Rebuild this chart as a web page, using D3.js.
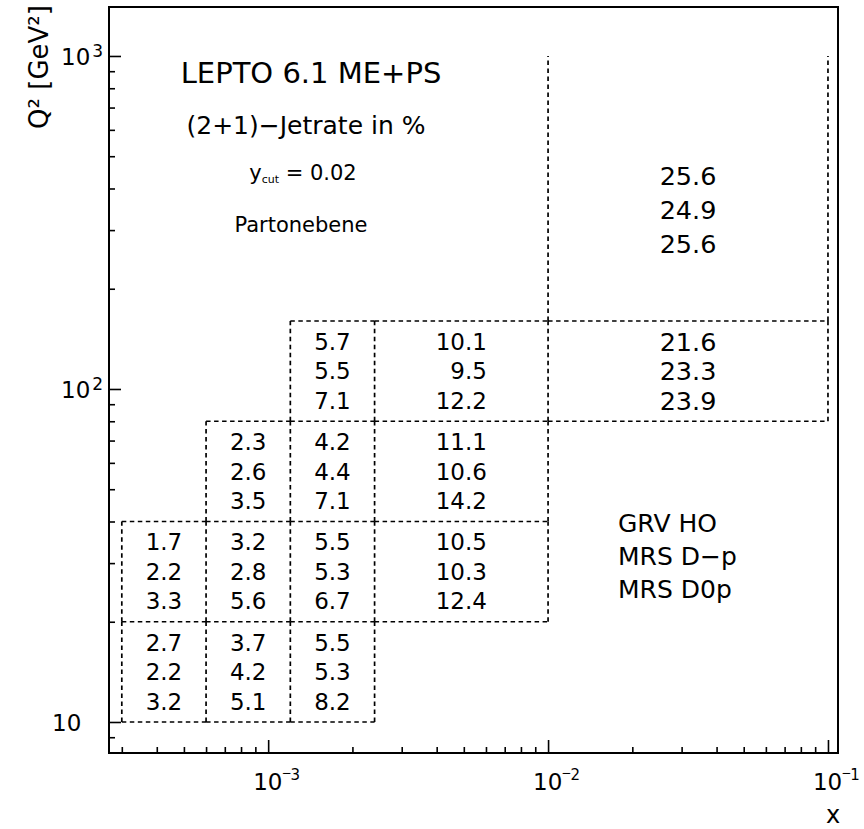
<!DOCTYPE html>
<html>
<head>
<meta charset="utf-8">
<script src="https://cdn.jsdelivr.net/npm/d3@7"></script>
<style>
  html, body { margin: 0; padding: 0; background: #fff; }
  svg { display: block; }
  text { font-family: "DejaVu Sans", "Liberation Sans", sans-serif; fill: #000; }
</style>
</head>
<body>
<svg id="chart" width="864" height="829"></svg>
<script>
// Bin edges of the (x, Q^2) grid
const xEdges  = [3e-4, 6e-4, 1.2e-3, 2.4e-3, 1e-2, 1e-1];
const q2Edges = [10, 20, 40, 80, 160, 1000];

// Parton density sets, one text line per set inside every bin
const pdfSets = ["GRV HO", "MRS D\u2212p", "MRS D0p"];

// Occupied bins: x-bin index and Q^2-bin index
const cellX  = [0, 1, 2,  0, 1, 2, 3,  1, 2, 3,  2, 3, 4,  4];
const cellQ2 = [0, 0, 0,  1, 1, 1, 1,  2, 2, 2,  3, 3, 3,  4];

// (2+1)-jet rate in % for each bin and parton density set
const rateGRV   = [2.7, 3.7, 5.5,  1.7, 3.2, 5.5, 10.5,  2.3, 4.2, 11.1,  5.7, 10.1, 21.6,  25.6];
const rateMRSDm = [2.2, 4.2, 5.3,  2.2, 2.8, 5.3, 10.3,  2.6, 4.4, 10.6,  5.5,  9.5, 23.3,  24.9];
const rateMRSD0 = [3.2, 5.1, 8.2,  3.3, 5.6, 6.7, 12.4,  3.5, 7.1, 14.2,  7.1, 12.2, 23.9,  25.6];

// Axis ticks
const xMajor = [1e-3, 1e-2, 1e-1];
const xMajorExp = ["3", "2", "1"];
const yMajor = [10, 100, 1000];
const yMajorExp = ["", "2", "3"];

const svg = d3.select("#chart");
const L = 109, R = 838, T = 7, B = 753;

const x = d3.scaleLog().domain([2.70e-4, 0.1086]).range([L, R]);
const y = d3.scaleLog().domain([8.07, 1403]).range([B, T]);

// minor ticks: 2..9 x 10^n inside the domains
function minors(scale) {
  const [a, b] = scale.domain();
  const out = [];
  for (let e = Math.floor(Math.log10(a)); e <= Math.ceil(Math.log10(b)); e++) {
    for (let m = 2; m <= 9; m++) {
      const v = m * Math.pow(10, e);
      if (v >= a && v <= b) out.push(v);
    }
  }
  return out;
}

const axisG = svg.append("g");
function drawAxis(gen) {
  const g = axisG.append("g").call(gen);
  g.select(".domain").remove();
  g.selectAll(".tick line").attr("stroke", "#000").attr("stroke-width", 1.6);
  g.selectAll(".tick text").remove();
  return g;
}
drawAxis(d3.axisBottom(x).tickValues(xMajor).tickSize(-13).tickFormat(""))
  .attr("transform", `translate(0,${B})`);
drawAxis(d3.axisBottom(x).tickValues(minors(x)).tickSize(-6).tickFormat(""))
  .attr("transform", `translate(0,${B})`);
drawAxis(d3.axisLeft(y).tickValues(yMajor).tickSize(-12).tickFormat(""))
  .attr("transform", `translate(${L},0)`);
drawAxis(d3.axisLeft(y).tickValues(minors(y)).tickSize(-6).tickFormat(""))
  .attr("transform", `translate(${L},0)`);

// frame
svg.append("rect")
  .attr("x", L).attr("y", T).attr("width", R - L).attr("height", B - T)
  .attr("fill", "none").attr("stroke", "#000").attr("stroke-width", 2);

// x tick labels: 10 with a raised negative exponent
xMajor.forEach((v, i) => {
  const tx = x(v);
  const lab = svg.append("text")
    .attr("x", tx - 15).attr("y", 790)
    .style("font-size", "23px");
  lab.append("tspan").text("10");
  lab.append("tspan").attr("dx", -1).attr("dy", -13)
    .style("font-size", "12px").text("\u2212");
  lab.append("tspan").attr("dx", -1).attr("dy", 3)
    .style("font-size", "15px").text(xMajorExp[i]);
});

// y tick labels
yMajor.forEach((v, i) => {
  const exp = yMajorExp[i];
  const lab = svg.append("text")
    .attr("x", exp ? 61 : 52).attr("y", y(v) + 9)
    .style("font-size", "23px");
  lab.append("tspan").text("10");
  if (exp) {
    lab.append("tspan").attr("dx", 2).attr("dy", -8)
      .style("font-size", "17px").text(exp);
  }
});

// axis titles
svg.append("text")
  .attr("transform", `translate(48,67) rotate(-90)`)
  .attr("text-anchor", "middle")
  .style("font-size", "26px")
  .text("Q\u00B2 [GeV\u00B2]");
svg.append("text")
  .attr("x", 833).attr("y", 823)
  .attr("text-anchor", "middle")
  .style("font-size", "24px")
  .text("x");

// bin borders: shared edges drawn once, the open upper bin has no top edge
const topBin = q2Edges.length - 2;
const segs = new Map();
function addSeg(x1, y1, x2, y2) {
  const k = [x1, y1, x2, y2].join("|");
  if (!segs.has(k)) segs.set(k, { x1, y1, x2, y2 });
}
cellX.forEach((ix, i) => {
  const iq = cellQ2[i];
  const x0 = xEdges[ix], x1 = xEdges[ix + 1];
  const q0 = q2Edges[iq], q1 = q2Edges[iq + 1];
  addSeg(x0, q0, x1, q0);
  if (iq !== topBin) addSeg(x0, q1, x1, q1);
  addSeg(x0, q0, x0, q1);
  addSeg(x1, q0, x1, q1);
});
svg.append("g")
  .selectAll("line")
  .data([...segs.values()])
  .join("line")
  .attr("x1", d => x(d.x1)).attr("y1", d => y(d.y1))
  .attr("x2", d => x(d.x2)).attr("y2", d => y(d.y2))
  .attr("stroke", "#000")
  .attr("stroke-width", 1.7)
  .attr("stroke-dasharray", "4.5,3.5");

// jet rates inside each bin, three lines right-aligned on a common edge
const fmt = d3.format(".1f");
const rateG = svg.append("g");
cellX.forEach((ix, i) => {
  const iq = cellQ2[i];
  const xa = x(xEdges[ix]), xb = x(xEdges[ix + 1]);
  const cx = (xa + xb) / 2;
  const wide = (xb - xa) > 250;
  const fs = wide ? 25.5 : 23;
  const open = iq === topBin;
  const step = open ? 34 : 29.5;
  const cy = open ? y(345) : (y(q2Edges[iq]) + y(q2Edges[iq + 1])) / 2;
  const vals = [rateGRV[i], rateMRSDm[i], rateMRSD0[i]].map(fmt);
  const texts = vals.map((s, k) => rateG.append("text")
    .attr("y", cy + (k - 1) * step + fs * 0.36)
    .style("font-size", fs + "px")
    .attr("text-anchor", "end")
    .text(s));
  const w = d3.max(texts, t => t.node().getComputedTextLength());
  texts.forEach(t => t.attr("x", cx + w / 2));
});

// header block
const head = [
  { t: "LEPTO 6.1 ME+PS", cx: 311, by: 83, fs: 29 },
  { t: "(2+1)\u2212Jetrate in %", cx: 306, by: 134, fs: 25 },
  { t: "Partonebene", cx: 301, by: 232, fs: 21 }
];
head.forEach(h => svg.append("text")
  .attr("x", h.cx).attr("y", h.by)
  .attr("text-anchor", "middle")
  .style("font-size", h.fs + "px")
  .text(h.t));

const ycut = svg.append("text")
  .attr("x", 303).attr("y", 180)
  .attr("text-anchor", "middle")
  .style("font-size", "21px");
ycut.append("tspan").text("y");
ycut.append("tspan").attr("dy", 3).style("font-size", "11px").text("cut");
ycut.append("tspan").attr("dy", -3).text(" = 0.02");

// legend: order of the three lines in every bin
svg.append("g")
  .selectAll("text")
  .data(pdfSets)
  .join("text")
  .attr("x", 618)
  .attr("y", (d, i) => 532 + i * 33)
  .style("font-size", "25px")
  .text(d => d);
</script>
</body>
</html>
